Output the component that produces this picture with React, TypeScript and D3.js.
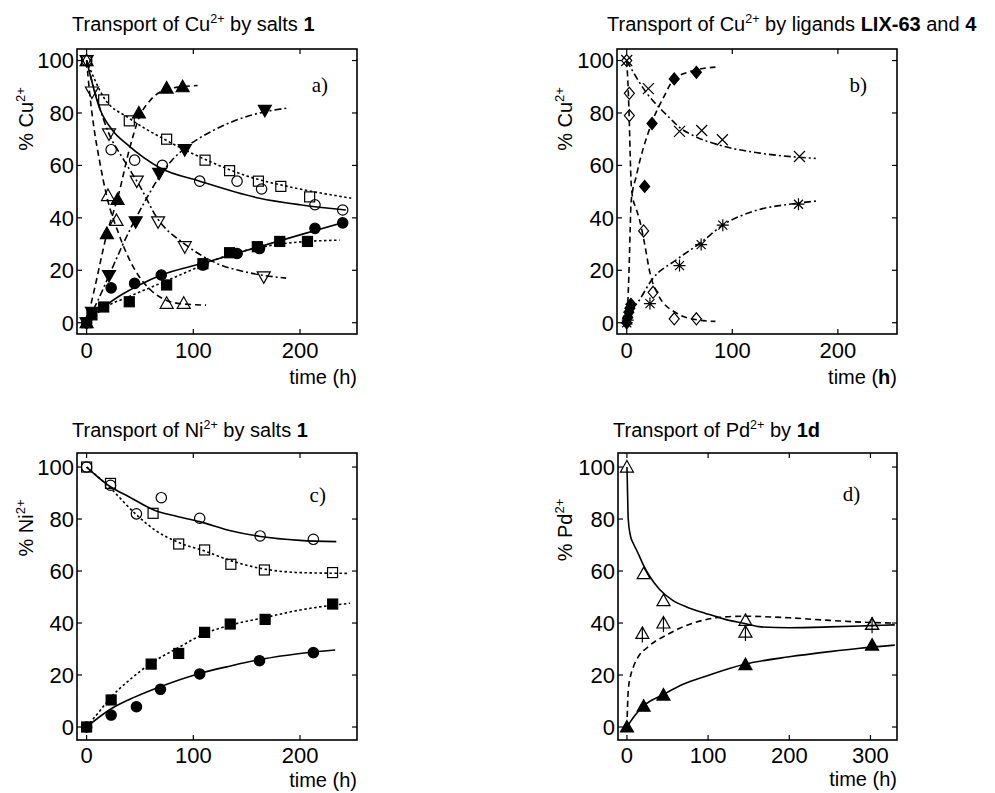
import React from "react";
import * as d3 from "d3";

type Pt = [number, number];

// ---------- panel a : Cu2+ by salts 1 (time h, % Cu2+)
const aOpenCircle: Pt[] = [[0, 100], [23, 66], [45, 62], [71, 60], [106, 54], [141, 54], [164, 51], [214, 45], [240, 43]];
const aOpenCircleFit: Pt[] = [[0, 100], [12, 82], [25, 73], [38, 68], [69, 59], [106, 54], [162, 47.5], [200, 45], [243, 43]];
const aOpenSquare: Pt[] = [[0, 100], [16, 85], [40, 77], [75, 70], [111, 62], [134, 58], [161, 54], [182, 52], [209, 48]];
const aOpenSquareFit: Pt[] = [[0, 100], [16, 86], [40, 78], [75, 69.5], [110, 62.5], [150, 56], [200, 51], [248, 47.5]];
const aOpenTriDown: Pt[] = [[0, 100], [5, 88], [21, 72], [47, 54], [67, 38.5], [92, 29], [166, 17.5]];
const aOpenTriDownFit: Pt[] = [[0, 100], [10, 85], [20, 73], [35, 62], [50, 52], [66, 40], [92, 30], [120, 23], [153, 19], [187, 17]];
const aOpenTriUp: Pt[] = [[0, 100], [20, 48.5], [28, 39], [75, 7.4], [91, 7.4]];
const aOpenTriUpFit: Pt[] = [[0, 100], [3, 87], [7, 74], [12, 62], [19, 48], [30, 34], [47, 19], [60, 12.5], [75, 8.5], [90, 7.2], [112, 6.7]];
const aFilledTriUp: Pt[] = [[0, 0], [19, 34], [29, 47], [49, 80], [75, 89.5], [90, 90]];
const aFilledTriUpFit: Pt[] = [[0, 0], [8, 14], [15, 27], [19, 34], [25, 42], [30, 49], [40, 66], [49, 78], [60, 85], [75, 89], [90, 90], [104, 90.5]];
const aFilledTriDown: Pt[] = [[0, 0], [5, 4], [21, 18], [46, 38.5], [68, 57], [92, 66], [167, 81]];
const aFilledTriDownFit: Pt[] = [[0, 0], [5, 4], [10, 8], [21, 18], [33, 29], [45, 39], [57, 48], [68, 55.6], [80, 62], [92, 66.5], [119, 73.4], [153, 79], [190, 82]];
const aFilledCircle: Pt[] = [[0, 0], [23, 13.3], [45, 15], [70, 18.2], [109, 22], [141, 26.4], [162, 28.3], [214, 36], [240, 38.1]];
const aFilledCircleFit: Pt[] = [[0, 0], [5, 2.5], [16, 6], [30, 10], [50, 14.5], [70, 18.2], [109, 22.7], [162, 29], [200, 33.5], [243, 38.5]];
const aFilledSquare: Pt[] = [[0, 0], [5, 3], [16, 6], [40, 8], [75, 14.4], [109, 22.5], [134, 26.7], [160, 29], [181, 31], [207, 31]];
const aFilledSquareFit: Pt[] = [[0, 0], [16, 5.5], [40, 10], [75, 16], [109, 22], [134, 26], [160, 28.5], [181, 30], [207, 31], [237, 31.5]];

// ---------- panel b : Cu2+ by LIX-63 and 4
const bOpenDiamond: Pt[] = [[0, 100], [2.5, 87.5], [2.5, 79], [16, 35], [25, 11.6], [45, 1.5], [66, 1.5]];
const bOpenDiamondFit: Pt[] = [[0, 100], [1.5, 88], [2.5, 76], [3.3, 64], [4, 55], [5.5, 48], [8.5, 44], [12.6, 38.5], [17, 30], [22, 19], [30, 10.5], [47, 3.7], [65, 1.2], [84, 0.5]];
const bFilledDiamond: Pt[] = [[0, 0], [1, 2], [2, 4], [3, 5.5], [4, 7], [17, 52], [24, 76], [45, 93], [66, 95.5]];
const bFilledDiamondFit: Pt[] = [[0, 0], [1.5, 12], [2.5, 24], [3.3, 36], [4, 45], [5.5, 50], [8.5, 55], [12.6, 62], [20, 72], [25, 77.6], [35, 86], [44, 92.5], [60, 95.8], [84, 97.5]];
const bCross: Pt[] = [[0, 100], [20.5, 89.3], [50, 73], [71, 73.3], [90.6, 69.8], [163.6, 63.4]];
const bCrossFit: Pt[] = [[0, 100], [10, 93], [20, 87], [31, 82], [41, 78], [50, 74.5], [63, 71.4], [90, 67.5], [126, 64.7], [160, 63.2], [179, 62.7]];
const bStar: Pt[] = [[0, 0], [1, 1], [22, 7.3], [50, 21.8], [70.5, 29.8], [91, 37.2], [162.7, 45.2]];
const bStarFit: Pt[] = [[0, 0], [3, 3.5], [11, 8], [24, 16.5], [47, 24], [70, 30.5], [92, 37.5], [120, 42.5], [160, 45.5], [182, 46.5]];

// ---------- panel c : Ni2+ by salts 1
const cOpenCircle: Pt[] = [[0, 100], [22.4, 93], [46.7, 82], [70, 88.2], [106, 80.3], [162.6, 73.5], [212.5, 72.2]];
const cOpenCircleFit: Pt[] = [[0, 100], [22, 92.5], [40, 88.5], [63, 83.5], [85, 81], [106, 79], [135, 75.5], [163, 73.3], [200, 71.8], [234, 71.3]];
const cOpenSquare: Pt[] = [[0, 100], [22.4, 93.7], [62.3, 82.2], [86.3, 70.4], [110.6, 68.1], [135.2, 62.6], [166.6, 60.4], [230.5, 59.4]];
const cOpenSquareFit: Pt[] = [[0, 100], [22, 92], [47, 81.5], [65, 75.5], [86, 71], [110, 67.8], [135, 64], [166, 60.8], [200, 59.4], [245, 59.1]];
const cFilledCircle: Pt[] = [[0, 0], [23, 4.6], [46.7, 7.8], [69.2, 14.5], [106, 20.4], [162, 25.5], [212.5, 28.6]];
const cFilledCircleFit: Pt[] = [[0, 0], [23, 7], [45, 11.5], [69, 15.5], [106, 20.6], [135, 23.5], [163, 26], [200, 28.3], [233, 29.6]];
const cFilledSquare: Pt[] = [[0, 0], [23, 10.4], [60.5, 24.2], [86.3, 28.3], [110.6, 36.4], [134.6, 39.6], [167.3, 41.4], [230.6, 47.3]];
const cFilledSquareFit: Pt[] = [[0, 0], [12, 6], [23, 11.5], [40, 18], [60, 24.4], [85, 30.3], [110, 35.8], [135, 39.2], [166, 42], [200, 45], [247, 47.6]];

// ---------- panel d : Pd2+ by 1d
const dOpenTri: Pt[] = [[0, 100], [20.6, 59], [45, 48.6], [146, 41], [302, 39.5]];
const dOpenTriFit: Pt[] = [[0, 100], [0.5, 94], [1.6, 80], [4, 74], [8, 70.5], [12, 68], [20, 62.5], [28, 58], [40, 53], [56, 48.8], [75, 46], [97, 43.7], [120, 41.5], [145, 39.8], [165, 38.5], [200, 38.2], [250, 38.5], [300, 39], [330, 39.3]];
const dStemTri: Pt[] = [[19, 36], [45, 40], [146, 36.5], [302, 39.5]];
const dStemTriFit: Pt[] = [[0, 0], [1.6, 14], [4, 19], [7.8, 23], [15, 27.5], [24, 30.3], [35, 33], [49, 35.4], [65, 38], [82, 40], [115, 42.2], [145, 42.6], [200, 42], [250, 41], [300, 40.2], [330, 40]];
const dFilledTri: Pt[] = [[0, 0], [20.6, 8], [45, 12.3], [146, 24], [302, 31.5]];
const dFilledTriFit: Pt[] = [[0, 0], [10, 4.5], [20, 8], [45, 12.5], [70, 16.5], [97, 19.5], [146, 24.2], [200, 27], [250, 29], [287, 30.3], [330, 31.5]];

const xTicks3 = [0, 100, 200];
const xTicks4 = [0, 100, 200, 300];
const yTicks = [0, 20, 40, 60, 80, 100];

const SOLID = "none";
const DASH = "6,4";
const DOT = "2.5,2.5";
const DASHDOT = "7,3,2,3";

type Kind = "circle" | "square" | "triUp" | "triDown" | "diamond" | "cross" | "star" | "triStem";
type Series = { pts: Pt[]; fit: Pt[]; kind: Kind; filled: boolean; dash: string };
type Seg = { t: string; bold?: boolean; sup?: boolean };

const seriesA: Series[] = [
  { pts: aOpenCircle, fit: aOpenCircleFit, kind: "circle", filled: false, dash: SOLID },
  { pts: aOpenSquare, fit: aOpenSquareFit, kind: "square", filled: false, dash: DOT },
  { pts: aOpenTriDown, fit: aOpenTriDownFit, kind: "triDown", filled: false, dash: DASHDOT },
  { pts: aOpenTriUp, fit: aOpenTriUpFit, kind: "triUp", filled: false, dash: DASH },
  { pts: aFilledTriUp, fit: aFilledTriUpFit, kind: "triUp", filled: true, dash: DASH },
  { pts: aFilledTriDown, fit: aFilledTriDownFit, kind: "triDown", filled: true, dash: DASHDOT },
  { pts: aFilledCircle, fit: aFilledCircleFit, kind: "circle", filled: true, dash: SOLID },
  { pts: aFilledSquare, fit: aFilledSquareFit, kind: "square", filled: true, dash: DOT },
];
const seriesB: Series[] = [
  { pts: bOpenDiamond, fit: bOpenDiamondFit, kind: "diamond", filled: false, dash: DASH },
  { pts: bFilledDiamond, fit: bFilledDiamondFit, kind: "diamond", filled: true, dash: DASH },
  { pts: bCross, fit: bCrossFit, kind: "cross", filled: false, dash: DASHDOT },
  { pts: bStar, fit: bStarFit, kind: "star", filled: false, dash: DASHDOT },
];
const seriesC: Series[] = [
  { pts: cOpenCircle, fit: cOpenCircleFit, kind: "circle", filled: false, dash: SOLID },
  { pts: cOpenSquare, fit: cOpenSquareFit, kind: "square", filled: false, dash: DOT },
  { pts: cFilledCircle, fit: cFilledCircleFit, kind: "circle", filled: true, dash: SOLID },
  { pts: cFilledSquare, fit: cFilledSquareFit, kind: "square", filled: true, dash: DOT },
];
const seriesD: Series[] = [
  { pts: dOpenTri, fit: dOpenTriFit, kind: "triUp", filled: false, dash: SOLID },
  { pts: dStemTri, fit: dStemTriFit, kind: "triStem", filled: false, dash: DASH },
  { pts: dFilledTri, fit: dFilledTriFit, kind: "triUp", filled: true, dash: SOLID },
];

const FONT = "'Liberation Sans', Arial, Helvetica, sans-serif";

function Marker({ kind, filled, cx, cy }: { kind: Kind; filled: boolean; cx: number; cy: number }) {
  const fill = filled ? "#000" : "none";
  const p = { stroke: "#000", strokeWidth: 1.2, fill };
  switch (kind) {
    case "circle":
      return <circle cx={cx} cy={cy} r={5.2} {...p} />;
    case "square":
      return <rect x={cx - 5} y={cy - 5} width={10} height={10} {...p} />;
    case "triUp":
      return <path d={`M${cx},${cy - 6.5}L${cx + 6.5},${cy + 5}L${cx - 6.5},${cy + 5}Z`} {...p} />;
    case "triDown":
      return <path d={`M${cx},${cy + 6.5}L${cx + 6.5},${cy - 5}L${cx - 6.5},${cy - 5}Z`} {...p} />;
    case "diamond":
      return <path d={`M${cx},${cy - 6}L${cx + 5},${cy}L${cx},${cy + 6}L${cx - 5},${cy}Z`} {...p} />;
    case "cross":
      return <path d={`M${cx - 5.5},${cy - 5.5}L${cx + 5.5},${cy + 5.5}M${cx - 5.5},${cy + 5.5}L${cx + 5.5},${cy - 5.5}`} {...p} />;
    case "star":
      return (
        <path
          d={`M${cx - 6},${cy}L${cx + 6},${cy}M${cx},${cy - 6}L${cx},${cy + 6}M${cx - 4.5},${cy - 4.5}L${cx + 4.5},${cy + 4.5}M${cx - 4.5},${cy + 4.5}L${cx + 4.5},${cy - 4.5}`}
          {...p}
        />
      );
    case "triStem":
      return (
        <g>
          <path d={`M${cx},${cy - 6.5}L${cx + 6.5},${cy + 5}L${cx - 6.5},${cy + 5}Z`} {...p} />
          <path d={`M${cx},${cy - 6.5}L${cx},${cy + 9}`} {...p} />
        </g>
      );
  }
  return null;
}

function RichText({ segs, supSize, supShift }: { segs: Seg[]; supSize: number; supShift: number }) {
  let prevSup = false;
  return (
    <>
      {segs.map((s, i) => {
        let dy = 0;
        if (s.sup && !prevSup) dy = -supShift;
        if (!s.sup && prevSup) dy = supShift;
        prevSup = !!s.sup;
        return (
          <tspan key={i} dy={dy} fontWeight={s.bold ? "bold" : "normal"} fontSize={s.sup ? supSize : undefined}>
            {s.t}
          </tspan>
        );
      })}
    </>
  );
}

type PanelProps = {
  left: number; top: number; width: number; height: number;
  xDomain: [number, number]; yDomain: [number, number];
  xTicks: number[]; series: Series[];
  title: Seg[]; titleX: number; titleY: number;
  ylab: Seg[]; ylabX: number; ylabY: number;
  xlab: Seg[]; xlabY: number; xTickY: number;
  corner: string; cornerAt: Pt;
};

function Panel(props: PanelProps) {
  const { left, top, width, height, xDomain, yDomain, xTicks, series } = props;
  const x = d3.scaleLinear().domain(xDomain).range([left, left + width]);
  const y = d3.scaleLinear().domain(yDomain).range([top + height, top]);
  const line = d3.line<Pt>().x((d) => x(d[0])).y((d) => y(d[1])).curve(d3.curveMonotoneX);
  const tl = 5;
  return (
    <g>
      <text x={props.titleX} y={props.titleY} fontFamily={FONT} fontSize={20}>
        <RichText segs={props.title} supSize={12.5} supShift={8} />
      </text>
      <text
        transform={`translate(${props.ylabX},${props.ylabY}) rotate(-90)`}
        textAnchor="middle"
        fontFamily={FONT}
        fontSize={20}
      >
        <RichText segs={props.ylab} supSize={13} supShift={8} />
      </text>
      <text x={left + width} y={props.xlabY} textAnchor="end" fontFamily={FONT} fontSize={20}>
        <RichText segs={props.xlab} supSize={13} supShift={8} />
      </text>
      {series.map((s, i) => (
        <path
          key={`l${i}`}
          d={line(s.fit) || ""}
          fill="none"
          stroke="#000"
          strokeWidth={1.6}
          strokeDasharray={s.dash}
        />
      ))}
      {series.map((s, i) => (
        <g key={`m${i}`}>
          {s.pts.map((d, j) => (
            <Marker key={j} kind={s.kind} filled={s.filled} cx={x(d[0])} cy={y(d[1])} />
          ))}
        </g>
      ))}
      <rect x={left} y={top} width={width} height={height} fill="none" stroke="#000" strokeWidth={1.6} />
      {xTicks.map((t) => (
        <g key={`xt${t}`}>
          <line x1={x(t)} x2={x(t)} y1={top + height} y2={top + height - tl} stroke="#000" strokeWidth={1.2} />
          <line x1={x(t)} x2={x(t)} y1={top} y2={top + tl} stroke="#000" strokeWidth={1.2} />
          <text x={x(t)} y={props.xTickY} textAnchor="middle" fontFamily={FONT} fontSize={22}>
            {t}
          </text>
        </g>
      ))}
      {yTicks.map((t) => (
        <g key={`yt${t}`}>
          <line x1={left} x2={left + tl} y1={y(t)} y2={y(t)} stroke="#000" strokeWidth={1.2} />
          <line x1={left + width} x2={left + width - tl} y1={y(t)} y2={y(t)} stroke="#000" strokeWidth={1.2} />
          <text x={left - 3} y={y(t)} dy="0.36em" textAnchor="end" fontFamily={FONT} fontSize={22}>
            {t}
          </text>
        </g>
      ))}
      <text x={x(props.cornerAt[0])} y={y(props.cornerAt[1])} fontFamily="'Liberation Serif', 'Times New Roman', serif" fontSize={21}>
        {props.corner}
      </text>
    </g>
  );
}

const timeLab: Seg[] = [{ t: "time (h)" }];
const timeLabBold: Seg[] = [{ t: "time (" }, { t: "h", bold: true }, { t: ")" }];

export default function App() {
  return (
    <svg width={995} height={793} style={{ position: "absolute", left: 0, top: 0, background: "#fff" }}>
      <Panel
        left={77} top={49} width={280} height={285}
        xDomain={[-9, 253.4]} yDomain={[-4.3, 104.4]} xTicks={xTicks3} series={seriesA}
        title={[{ t: "Transport of Cu" }, { t: "2+", sup: true }, { t: " by salts " }, { t: "1", bold: true }]}
        titleX={72} titleY={31}
        ylab={[{ t: "% Cu" }, { t: "2+", sup: true }]} ylabX={33} ylabY={119}
        xlab={timeLab} xlabY={384} xTickY={358}
        corner="a)" cornerAt={[211, 88]}
      />
      <Panel
        left={617} top={49} width={280} height={285}
        xDomain={[-9.2, 256]} yDomain={[-4.3, 104.4]} xTicks={xTicks3} series={seriesB}
        title={[
          { t: "Transport of Cu" }, { t: "2+", sup: true }, { t: " by ligands " },
          { t: "LIX-63", bold: true }, { t: " and " }, { t: "4", bold: true },
        ]}
        titleX={607} titleY={31}
        ylab={[{ t: "% Cu" }, { t: "2+", sup: true }]} ylabX={572} ylabY={119}
        xlab={timeLabBold} xlabY={384} xTickY={358}
        corner="b)" cornerAt={[211, 88]}
      />
      <Panel
        left={77} top={453} width={280} height={287}
        xDomain={[-9, 253.4]} yDomain={[-5, 105.4]} xTicks={xTicks3} series={seriesC}
        title={[{ t: "Transport of Ni" }, { t: "2+", sup: true }, { t: " by salts " }, { t: "1", bold: true }]}
        titleX={72} titleY={437}
        ylab={[{ t: "% Ni" }, { t: "2+", sup: true }]} ylabX={33} ylabY={528}
        xlab={timeLab} xlabY={787} xTickY={763}
        corner="c)" cornerAt={[209, 86.5]}
      />
      <Panel
        left={618} top={453} width={279} height={287}
        xDomain={[-11, 332.7]} yDomain={[-5, 105.4]} xTicks={xTicks4} series={seriesD}
        title={[{ t: "Transport of Pd" }, { t: "2+", sup: true }, { t: " by " }, { t: "1d", bold: true }]}
        titleX={613} titleY={437}
        ylab={[{ t: "% Pd" }, { t: "2+", sup: true }]} ylabX={572} ylabY={530}
        xlab={timeLab} xlabY={786} xTickY={763}
        corner="d)" cornerAt={[266, 87]}
      />
    </svg>
  );
}
